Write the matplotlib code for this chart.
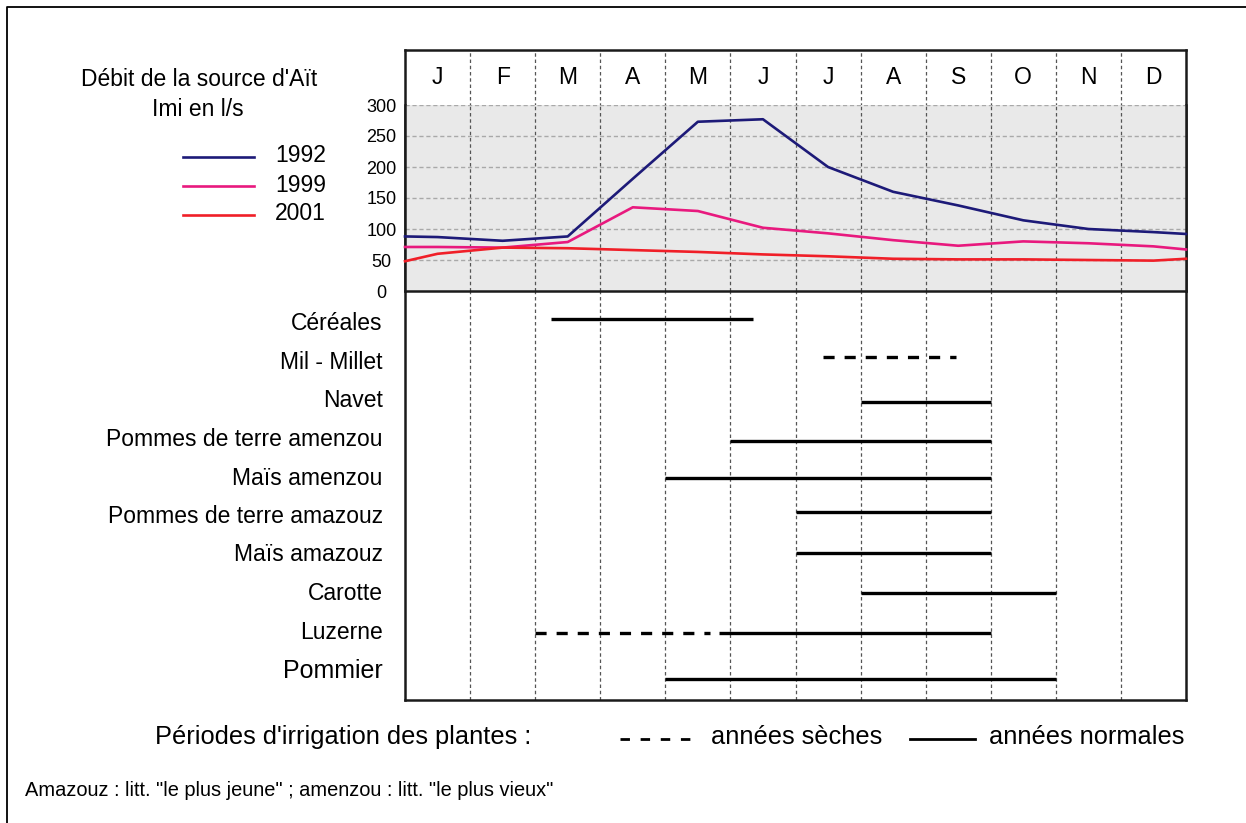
import matplotlib
matplotlib.use("Agg")
import matplotlib.pyplot as plt
from matplotlib.lines import Line2D

plt.rcParams['font.family'] = ['Liberation Sans', 'DejaVu Sans']
plt.rcParams['lines.scale_dashes'] = False

# ---------------- data ----------------
months = ["J", "F", "M", "A", "M", "J", "J", "A", "S", "O", "N", "D"]
years = ["1992", "1999", "2001"]
# flow (l/s) at chart start, each month centre (J..D), chart end
flow_1992 = [88, 87, 81, 88, 181, 273, 277, 200, 160, 138, 114, 100, 95, 92]
flow_1999 = [71, 71, 70, 79, 135, 129, 102, 93, 82, 73, 80, 77, 72, 67]
flow_2001 = [48, 60, 70, 69, 66, 63, 59, 56, 52, 51, 51, 50, 49, 52]
flow_ticks = [0, 50, 100, 150, 200, 250, 300]

crops = ["Céréales", "Mil - Millet", "Navet", "Pommes de terre amenzou",
         "Maïs amenzou", "Pommes de terre amazouz", "Maïs amazouz",
         "Carotte", "Luzerne", "Pommier"]
# irrigation periods in month units (0 = 1 Jan, 12 = 31 Dec)
normal_start = [2.25, None, 7.0, 5.0, 4.0, 6.0, 6.0, 7.0, 4.83, 4.0]
normal_end = [5.35, None, 9.0, 9.0, 9.0, 9.0, 9.0, 10.0, 9.0, 10.0]
dry_start = [None, 6.42, None, None, None, None, None, None, 2.0, None]
dry_end = [None, 8.47, None, None, None, None, None, None, 4.68, None]

title_lines = ["Débit de la source d'Aït", "Imi en l/s"]
legend_title = "Périodes d'irrigation des plantes :"
legend_dry = "années sèches"
legend_normal = "années normales"
footnote = 'Amazouz : litt. "le plus jeune" ; amenzou : litt. "le plus vieux"'

# ---------------- layout / style ----------------
W, H = 1246, 823
series_colors = ["#1d1a78", "#e8197e", "#f01f28"]
label_rows = [321, 360, 398, 437, 476, 514, 552, 591, 630, 668]
bar_rows = [319, 357, 402, 441, 478, 512, 553, 593, 633, 679]
label_sizes = [16.5, 16.5, 16.5, 16.5, 16.5, 16.5, 16.5, 16.5, 16.5, 18]


def box(x0, y0, x1, y1):
    return [x0 / W, 1 - y1 / H, (x1 - x0) / W, (y1 - y0) / H]


def fx(x):
    return x / W


def fy(y):
    return 1 - y / H


fig = plt.figure(figsize=(W / 100, H / 100), dpi=100)
fig.patch.set_facecolor("white")

vstyle = dict(color="#555555", lw=0.9, ls=(0, (2.5, 2.0)))
spine_kw = dict(lw=1.8, color="#1a1a1a")

# ---- main box (calendar + crops) ----
ax = fig.add_axes(box(405, 50, 1186, 700))
ax.set_xlim(0, 12)
ax.set_ylim(700, 50)
for s in ax.spines.values():
    s.set_linewidth(spine_kw["lw"])
    s.set_color(spine_kw["color"])
ax.set_xticks([])
for b in range(1, 12):
    ax.axvline(b, **vstyle, zorder=1)
for i, m in enumerate(months):
    ax.text(i + 0.5, 78, m, ha="center", va="center", fontsize=16.5)

ax.set_yticks(label_rows)
ax.set_yticklabels(crops)
ax.tick_params(axis="y", length=0, pad=16)
for lab, fs in zip(ax.get_yticklabels(), label_sizes):
    lab.set_fontsize(fs)

for yb, s0, s1, d0, d1 in zip(bar_rows, normal_start, normal_end, dry_start, dry_end):
    if s0 is not None:
        ax.plot([s0, s1], [yb, yb], color="black", lw=2.4, solid_capstyle="butt", zorder=3)
    if d0 is not None:
        ax.plot([d0, d1], [yb, yb], color="black", lw=2.4, ls=(0, (8.0, 7.2)),
                dash_capstyle="butt", zorder=3)

# ---- flow chart ----
axf = fig.add_axes(box(405, 105, 1186, 291))
axf.set_xlim(0, 12)
axf.set_ylim(0, 300)
axf.set_facecolor("#e9e9e9")
axf.spines["top"].set_visible(False)
for k in ["left", "right", "bottom"]:
    axf.spines[k].set_linewidth(spine_kw["lw"])
    axf.spines[k].set_color(spine_kw["color"])
axf.set_xticks([])
axf.set_yticks(flow_ticks)
axf.set_yticklabels([str(t) for t in flow_ticks])
axf.tick_params(axis="y", length=0, pad=17, labelsize=13)
for lab in axf.get_yticklabels():
    lab.set_ha("center")
for v in flow_ticks[1:]:
    axf.axhline(v, color="#a9a9a9", lw=1.0, ls=(0, (3, 2)), zorder=1)
for b in range(1, 12):
    axf.axvline(b, **vstyle, zorder=1.5)

flow_x = [0] + [i + 0.5 for i in range(12)] + [12]
for vals, col in zip([flow_1992, flow_1999, flow_2001], series_colors):
    axf.plot(flow_x, vals, color=col, lw=1.9, zorder=3, clip_on=False)

# ---- top-left title and legend ----
fig.text(fx(199), fy(80), title_lines[0], ha="center", va="center", fontsize=16.5)
fig.text(fx(198), fy(110), title_lines[1], ha="center", va="center", fontsize=16.5)
for yr, col, yy in zip(years, series_colors, [157, 186, 215]):
    fig.add_artist(Line2D([fx(183), fx(254)], [fy(yy), fy(yy)], color=col, lw=1.9,
                          transform=fig.transFigure))
    fig.text(fx(275), fy(yy - 1), yr, ha="left", va="center", fontsize=16.5)

# ---- bottom legend ----
fig.text(fx(155), fy(737), legend_title, ha="left", va="center", fontsize=18.3)
fig.add_artist(Line2D([fx(620), fx(690)], [fy(739), fy(739)], color="black", lw=2.0,
                      ls=(0, (6.8, 7.7)), transform=fig.transFigure))
fig.text(fx(711), fy(737), legend_dry, ha="left", va="center", fontsize=18.3)
fig.add_artist(Line2D([fx(910), fx(975)], [fy(739), fy(739)], color="black", lw=2.0,
                      transform=fig.transFigure))
fig.text(fx(989), fy(737), legend_normal, ha="left", va="center", fontsize=18.3)

fig.text(fx(25), fy(791), footnote, ha="left", va="center", fontsize=14.4)

# ---- outer frame (left and top edges) ----
fig.add_artist(Line2D([fx(7), fx(7), fx(W)], [fy(H), fy(7), fy(7)], color="black",
                      lw=1.3, transform=fig.transFigure))

fig.savefig("out.png", dpi=100)
